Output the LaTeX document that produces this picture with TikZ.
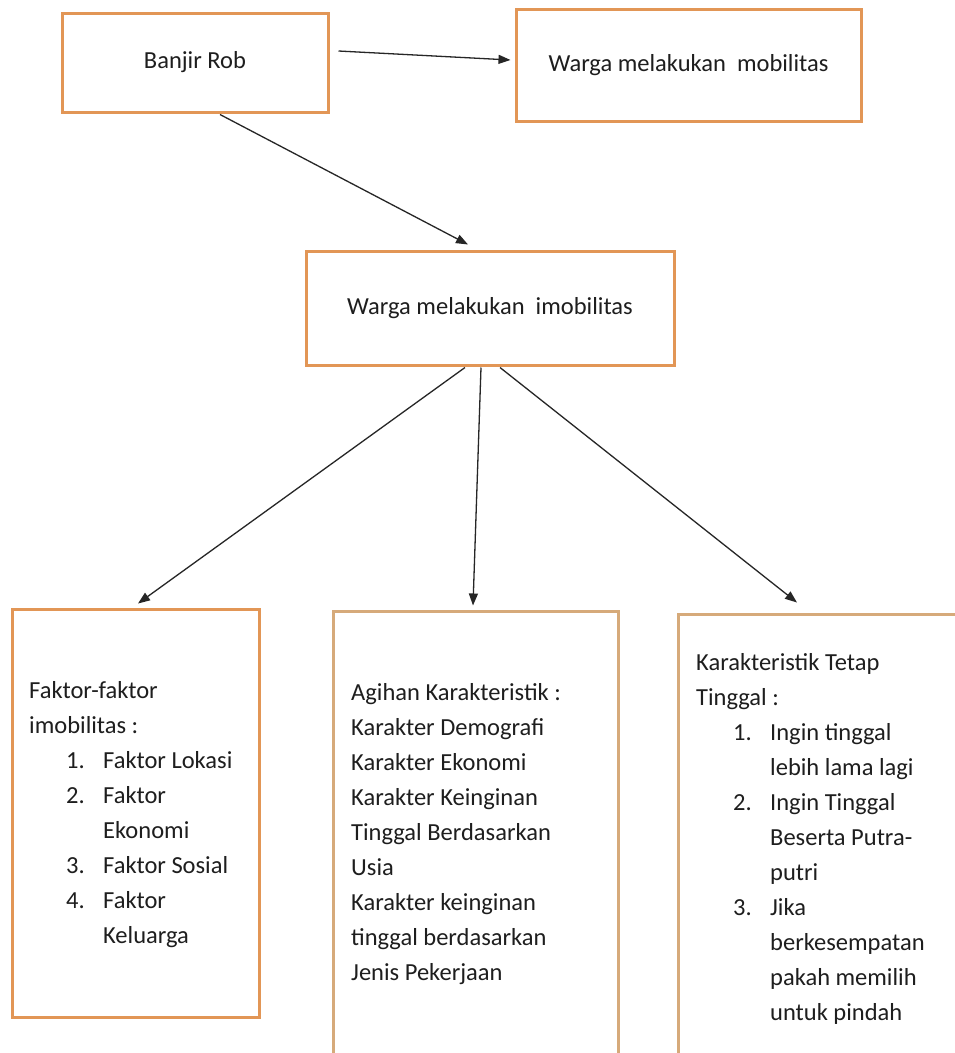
\documentclass[tikz,border=0pt]{standalone}
\usepackage{fontspec}
\setmainfont{Carlito}
\usetikzlibrary{arrows.meta}
\definecolor{boxorange}{RGB}{226,150,86}
\definecolor{boxtan}{RGB}{214,170,122}
\definecolor{inktext}{RGB}{30,30,30}
\tikzset{
  kotak/.style={draw=boxorange, line width=3pt, rectangle, inner sep=0pt, fill=white,
    font=\fontsize{24.5}{35}\selectfont, text=inktext},
  isi/.style={font=\fontsize{24.5}{35}\selectfont, text=inktext, align=left, inner sep=0pt, anchor=north west},
  panah/.style={-{Triangle[length=12pt,width=9pt]}, line width=1.3pt, black!85}
}
\newcommand{\butir}[2]{\hspace*{37pt}\makebox[37pt][l]{#1}#2}
\newcommand{\lanjut}[1]{\hspace*{74pt}#1}
\begin{document}
\begin{tikzpicture}[x=1pt, y=-1pt]
\useasboundingbox (0,0) rectangle (955,1053);
\clip (0,0) rectangle (955,1053);
\fill[white] (0,0) rectangle (955,1053);

\node[kotak, minimum width=266pt, minimum height=99pt] (bA) at (195,62.5) {Banjir Rob};
\node[kotak, minimum width=345pt, minimum height=112pt] (bB) at (688.5,65) {Warga melakukan\ \ mobilitas};
\node[kotak, minimum width=368pt, minimum height=114pt] (bC) at (490,308) {Warga melakukan\ \ imobilitas};
\node[kotak, minimum width=247pt, minimum height=408pt] (bD) at (135.5,813) {};
\node[kotak, draw=boxtan, minimum width=285pt, minimum height=464pt] (bE) at (475.5,843) {};
\node[kotak, draw=boxtan, minimum width=297pt, minimum height=461pt] (bF) at (826.5,844.5) {};

\node[isi] (tD) at (29,673.5) {\strut Faktor-faktor\\ imobilitas :\\ \butir{1.}{Faktor Lokasi}\\
  \butir{2.}{Faktor}\\ \lanjut{Ekonomi}\\ \butir{3.}{Faktor Sosial}\\ \butir{4.}{Faktor}\\ \lanjut{Keluarga}};
\node[isi] (tE) at (351,675.5) {\strut Agihan Karakteristik :\\ Karakter Demografi\\ Karakter Ekonomi\\
  Karakter Keinginan\\ Tinggal Berdasarkan\\ Usia\\ Karakter keinginan\\ tinggal berdasarkan\\ Jenis Pekerjaan};
\node[isi] (tF) at (696,645.5) {\strut Karakteristik Tetap\\ Tinggal :\\ \butir{1.}{Ingin tinggal}\\
  \lanjut{lebih lama lagi}\\ \butir{2.}{Ingin Tinggal}\\ \lanjut{Beserta Putra-}\\ \lanjut{putri}\\
  \butir{3.}{Jika}\\ \lanjut{berkesempatan}\\ \lanjut{pakah memilih}\\ \lanjut{untuk pindah}};

\draw[panah] ([shift={(9,-11.5)}]bA.east) -- ([shift={(-4,-5)}]bB.west);
\draw[panah] ([shift={(25,1)}]bA.south) -- ([shift={(-22,-5)}]bC.north);
\foreach \dx/\ujung/\ex/\ey in {-25/bD/2.5/-4, -9/bE/-2.5/-4, 10/bF/-29.5/-10}
  \draw[panah] ([shift={(\dx,1)}]bC.south) -- ([shift={(\ex,\ey)}]\ujung.north);
\end{tikzpicture}
\end{document}
